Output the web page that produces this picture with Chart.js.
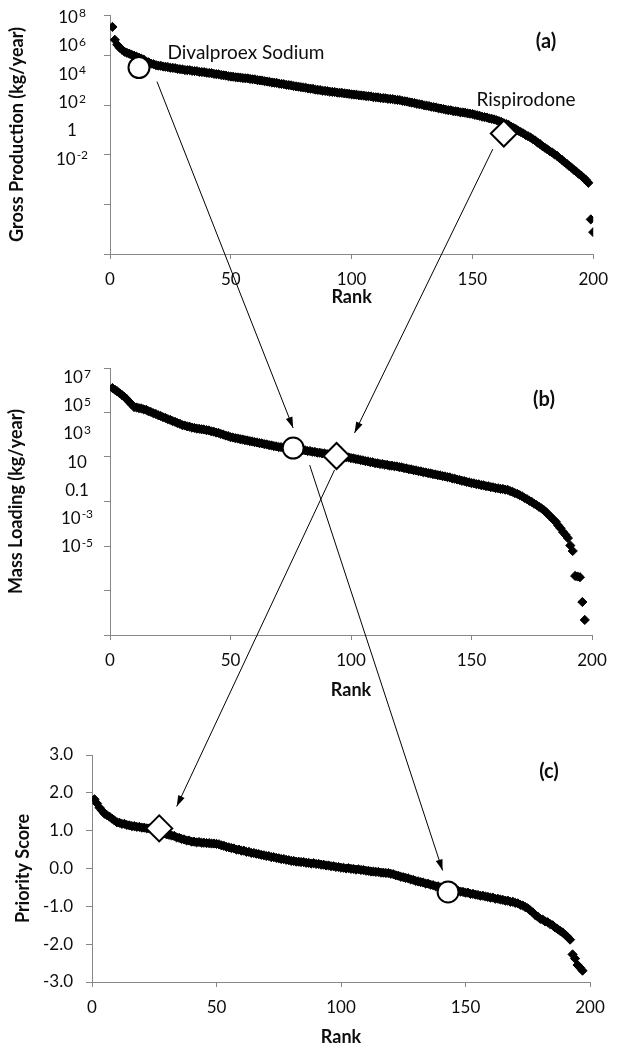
<!DOCTYPE html>
<html>
<head>
<meta charset="utf-8">
<script src="https://cdn.jsdelivr.net/npm/chart.js@4.4.1/dist/chart.umd.min.js"></script>
<style>
  body { margin: 0; background: #fff; }
  #wrap { position: relative; width: 618px; height: 1050px; }
  #wrap canvas { position: absolute; left: 0; }
</style>
</head>
<body>
<div id="wrap">
  <canvas id="chartA" width="618" height="310" style="top:0px"></canvas>
  <canvas id="chartB" width="618" height="373" style="top:330px"></canvas>
  <canvas id="chartC" width="618" height="330" style="top:720px"></canvas>
  <canvas id="overlay" width="618" height="1050" style="top:0px"></canvas>
</div>
<script>
// log10 of gross production (kg/year), rank 1..200
const grossLog10 = [
  7.30, 6.39, 6.04, 5.83, 5.69, 5.55, 5.47, 5.41, 5.33, 5.27,
  5.20, 5.13, 5.06, 4.99, 4.86, 4.80, 4.71, 4.67, 4.60, 4.57,
  4.56, 4.51, 4.49, 4.47, 4.42, 4.41, 4.39, 4.34, 4.32, 4.30,
  4.26, 4.25, 4.25, 4.20, 4.19, 4.18, 4.13, 4.12, 4.11, 4.07,
  4.05, 4.04, 3.99, 3.97, 3.96, 3.91, 3.89, 3.87, 3.82, 3.80,
  3.79, 3.75, 3.74, 3.73, 3.69, 3.68, 3.67, 3.63, 3.61, 3.60,
  3.55, 3.53, 3.52, 3.47, 3.45, 3.43, 3.38, 3.37, 3.35, 3.30,
  3.28, 3.26, 3.22, 3.20, 3.18, 3.13, 3.11, 3.09, 3.05, 3.03,
  3.01, 2.96, 2.95, 2.93, 2.88, 2.86, 2.85, 2.80, 2.79, 2.77,
  2.73, 2.72, 2.71, 2.67, 2.66, 2.65, 2.61, 2.60, 2.58, 2.54,
  2.53, 2.52, 2.48, 2.47, 2.46, 2.42, 2.41, 2.40, 2.35, 2.34,
  2.33, 2.29, 2.28, 2.27, 2.23, 2.22, 2.21, 2.17, 2.15, 2.14,
  2.09, 2.06, 2.04, 1.98, 1.96, 1.93, 1.88, 1.85, 1.83, 1.77,
  1.75, 1.72, 1.67, 1.64, 1.62, 1.56, 1.54, 1.51, 1.46, 1.43,
  1.42, 1.37, 1.35, 1.33, 1.28, 1.27, 1.25, 1.20, 1.18, 1.16,
  1.10, 1.07, 1.03, 0.97, 0.94, 0.91, 0.85, 0.82, 0.78, 0.72,
  0.66, 0.60, 0.51, 0.45, 0.39, 0.27, 0.18, 0.10, -0.02, -0.11,
  -0.20, -0.32, -0.40, -0.49, -0.61, -0.71, -0.86, -0.96, -1.11, -1.22,
  -1.33, -1.46, -1.55, -1.69, -1.78, -1.94, -2.06, -2.22, -2.34, -2.50,
  -2.62, -2.78, -2.90, -3.06, -3.18, -3.34, -3.49, -3.69, -6.27, -7.17
];

// log10 of mass loading (kg/year), rank 1..197
const massLog10 = [
  6.22, 6.10, 5.98, 5.85, 5.72, 5.58, 5.42, 5.23, 5.05, 4.87,
  4.84, 4.79, 4.77, 4.70, 4.67, 4.57, 4.52, 4.43, 4.38, 4.29,
  4.24, 4.15, 4.10, 4.01, 3.96, 3.87, 3.82, 3.73, 3.68, 3.59,
  3.56, 3.50, 3.48, 3.41, 3.39, 3.34, 3.33, 3.29, 3.28, 3.23,
  3.21, 3.15, 3.13, 3.06, 3.04, 2.96, 2.92, 2.85, 2.81, 2.73,
  2.71, 2.66, 2.64, 2.59, 2.57, 2.52, 2.50, 2.45, 2.43, 2.38,
  2.36, 2.31, 2.29, 2.24, 2.22, 2.17, 2.15, 2.10, 2.08, 2.03,
  2.03, 1.99, 1.99, 1.94, 1.94, 1.90, 1.90, 1.85, 1.85, 1.81,
  1.80, 1.75, 1.75, 1.70, 1.69, 1.64, 1.63, 1.59, 1.58, 1.53,
  1.52, 1.47, 1.47, 1.42, 1.41, 1.36, 1.35, 1.31, 1.30, 1.25,
  1.23, 1.18, 1.16, 1.11, 1.09, 1.03, 1.02, 0.96, 0.95, 0.89,
  0.88, 0.83, 0.83, 0.78, 0.77, 0.72, 0.71, 0.67, 0.66, 0.61,
  0.59, 0.54, 0.52, 0.46, 0.45, 0.39, 0.38, 0.32, 0.31, 0.25,
  0.23, 0.18, 0.16, 0.11, 0.09, 0.04, 0.02, -0.03, -0.05, -0.10,
  -0.12, -0.19, -0.21, -0.27, -0.30, -0.36, -0.38, -0.44, -0.47, -0.53,
  -0.54, -0.60, -0.61, -0.67, -0.68, -0.74, -0.75, -0.81, -0.82, -0.88,
  -0.89, -0.93, -0.94, -0.99, -1.00, -1.09, -1.14, -1.23, -1.29, -1.38,
  -1.46, -1.58, -1.66, -1.78, -1.86, -1.99, -2.08, -2.21, -2.31, -2.44,
  -2.59, -2.78, -2.93, -3.12, -3.27, -3.53, -3.74, -4.00, -4.19, -4.42,
  -4.95, -5.34, -7.11, -7.15, -7.20, -8.96, -10.23
];

// priority score, rank 1..197
const priorityScore = [
  1.83, 1.72, 1.61, 1.53, 1.45, 1.41, 1.37, 1.32, 1.27, 1.22,
  1.21, 1.18, 1.18, 1.15, 1.14, 1.12, 1.12, 1.10, 1.10, 1.08,
  1.08, 1.06, 1.06, 1.04, 1.04, 1.01, 0.99, 0.95, 0.93, 0.90,
  0.89, 0.87, 0.86, 0.82, 0.81, 0.78, 0.77, 0.74, 0.74, 0.71,
  0.71, 0.69, 0.70, 0.68, 0.68, 0.67, 0.67, 0.66, 0.66, 0.65,
  0.64, 0.61, 0.60, 0.57, 0.56, 0.54, 0.53, 0.50, 0.50, 0.47,
  0.47, 0.44, 0.44, 0.41, 0.41, 0.39, 0.38, 0.36, 0.35, 0.33,
  0.33, 0.30, 0.30, 0.28, 0.27, 0.25, 0.25, 0.23, 0.22, 0.20,
  0.20, 0.18, 0.18, 0.17, 0.17, 0.15, 0.15, 0.13, 0.14, 0.12,
  0.12, 0.10, 0.10, 0.08, 0.08, 0.06, 0.06, 0.04, 0.04, 0.02,
  0.02, 0.00, 0.01, -0.01, -0.01, -0.03, -0.02, -0.04, -0.04, -0.06,
  -0.06, -0.08, -0.08, -0.09, -0.09, -0.11, -0.11, -0.12, -0.12, -0.14,
  -0.15, -0.18, -0.19, -0.22, -0.23, -0.25, -0.26, -0.29, -0.30, -0.33,
  -0.34, -0.36, -0.37, -0.40, -0.40, -0.43, -0.44, -0.47, -0.47, -0.50,
  -0.50, -0.53, -0.53, -0.56, -0.56, -0.58, -0.59, -0.61, -0.62, -0.64,
  -0.64, -0.67, -0.67, -0.69, -0.70, -0.72, -0.72, -0.74, -0.75, -0.77,
  -0.77, -0.80, -0.80, -0.82, -0.83, -0.85, -0.85, -0.88, -0.88, -0.91,
  -0.92, -0.96, -0.98, -1.02, -1.05, -1.11, -1.16, -1.23, -1.27, -1.33,
  -1.35, -1.40, -1.42, -1.47, -1.50, -1.56, -1.60, -1.65, -1.69, -1.75,
  -1.81, -1.88, -2.27, -2.38, -2.55, -2.62, -2.70
];

// highlighted drugs in panels a, b, c
const divalproexRank = [12, 76, 143];
const divalproexValue = [4.43, 1.96, -0.62];
const rispirodoneRank = [163, 94, 27];
const rispirodoneValue = [-0.22, 1.40, 1.06];

// hand-placed power-of-ten labels on the log axes
const grossLabelExp = [8, 6, 4, 2, 0, -2];
const massLabelExp = [7, 5, 3, 1, -1, -3, -5];

const AXIS = '#878787';
const INK = '#0d0d0d';
Chart.defaults.font.family = 'Lato, "Open Sans", sans-serif';
Chart.defaults.color = INK;

const toPoints = vals => vals.map((v, i) => ({ x: i + 1, y: v }));

const powerLabels = {
  id: 'powerLabels',
  afterDraw(chart, args, opts) {
    if (!opts.exps) return;
    const ctx = chart.ctx;
    const scale = chart.scales.y;
    ctx.save();
    ctx.fillStyle = INK;
    ctx.textBaseline = 'alphabetic';
    ctx.textAlign = 'left';
    opts.exps.forEach(e => {
      const py = scale.getPixelForValue(e);
      let base = '10', sup = '';
      if (e === 0) base = '1';
      else if (e === -1) base = '0.1';
      else if (e !== 1) sup = String(e);
      ctx.font = '17px Lato';
      const bw = ctx.measureText(base).width;
      ctx.font = '12px Lato';
      const sw = sup ? ctx.measureText(sup).width + 1 : 0;
      const x0 = opts.cx - (bw + sw) / 2;
      ctx.font = '17px Lato';
      ctx.fillText(base, x0, py + 6);
      if (sup) {
        ctx.font = '12px Lato';
        ctx.fillText(sup, x0 + bw + 1, py + 0.5);
      }
    });
    ctx.restore();
  }
};

function makeChart(id, cfg) {
  return new Chart(document.getElementById(id), {
    type: 'scatter',
    data: {
      datasets: [
        {
          data: [{ x: cfg.circle[0], y: cfg.circle[1] }],
          pointStyle: 'circle', pointRadius: 10.5,
          backgroundColor: '#fff', borderColor: '#000', borderWidth: 2
        },
        {
          data: [{ x: cfg.diamond[0], y: cfg.diamond[1] }],
          pointStyle: 'rectRot', pointRadius: 13,
          backgroundColor: '#fff', borderColor: '#000', borderWidth: 2
        },
        {
          data: toPoints(cfg.values),
          pointStyle: 'rectRot', pointRadius: 4.6,
          backgroundColor: '#000', borderColor: '#000', borderWidth: 1
        }
      ]
    },
    options: {
      responsive: false,
      animation: false,
      layout: { padding: { top: cfg.padTop, right: cfg.padRight, left: 0, bottom: 0 } },
      plugins: {
        legend: { display: false },
        tooltip: { enabled: false },
        powerLabels: { exps: cfg.labelExps, cx: cfg.labelCx }
      },
      scales: {
        x: {
          type: 'linear', min: 0, max: 200,
          ticks: { stepSize: 50, padding: 10, font: { size: 17 }, color: INK },
          grid: { drawOnChartArea: false, tickLength: 5, color: AXIS },
          border: { color: AXIS },
          title: { display: true, text: 'Rank', color: INK,
                   font: { size: 18, weight: 'bold' }, padding: { top: 0, bottom: 2 } },
          afterFit: s => { s.height = cfg.xHeight; }
        },
        y: {
          type: 'linear', min: cfg.yMin, max: cfg.yMax,
          afterBuildTicks: cfg.yTicks ? s => { s.ticks = cfg.yTicks.map(v => ({ value: v })); } : undefined,
          ticks: cfg.yTicks ? { display: false } : {
            stepSize: 1, padding: 13, font: { size: 17 }, color: INK,
            callback: v => v.toFixed(1)
          },
          grid: { drawOnChartArea: false, tickLength: 6, color: AXIS },
          border: { color: AXIS },
          title: { display: true, text: cfg.yTitle, color: INK,
                   font: { size: 18, weight: 'bold' }, padding: { top: cfg.titlePad, bottom: 0 } },
          afterFit: s => { s.width = cfg.yWidth; }
        }
      }
    },
    plugins: [powerLabels]
  });
}

const chartA = makeChart('chartA', {
  values: grossLog10,
  circle: [divalproexRank[0], divalproexValue[0]],
  diamond: [rispirodoneRank[0], rispirodoneValue[0]],
  yMin: -8.71, yMax: 8.14,
  yTicks: [-8.71, -5.21, -1.72, 1.78, 5.27, 8.14],
  labelExps: grossLabelExp, labelCx: 72,
  yTitle: 'Gross Production (kg/year)', titlePad: 6,
  padTop: 13, padRight: 24, xHeight: 56, yWidth: 110
});

const chartB = makeChart('chartB', {
  values: massLog10,
  circle: [divalproexRank[1], divalproexValue[1]],
  diamond: [rispirodoneRank[1], rispirodoneValue[1]],
  yMin: -11.30, yMax: 7.64,
  yTicks: [-11.30, -8.14, -4.99, -1.83, 1.33, 4.48, 7.64],
  labelExps: massLabelExp, labelCx: 77,
  yTitle: 'Mass Loading (kg/year)', titlePad: 5,
  padTop: 38, padRight: 26, xHeight: 68, yWidth: 110
});

const chartC = makeChart('chartC', {
  values: priorityScore,
  circle: [divalproexRank[2], divalproexValue[2]],
  diamond: [rispirodoneRank[2], rispirodoneValue[2]],
  yMin: -3, yMax: 3,
  yTitle: 'Priority Score', titlePad: 12,
  padTop: 35, padRight: 28, xHeight: 68, yWidth: 92
});

// arrows and annotation text on a page-wide overlay
function pagePx(chart, top, x, y) {
  return [chart.scales.x.getPixelForValue(x), top + chart.scales.y.getPixelForValue(y)];
}

function arrow(ctx, a, b) {
  ctx.beginPath();
  ctx.moveTo(a[0], a[1]);
  ctx.lineTo(b[0], b[1]);
  ctx.stroke();
  const ang = Math.atan2(b[1] - a[1], b[0] - a[0]);
  const L = 11, W = 3.5;
  ctx.beginPath();
  ctx.moveTo(b[0], b[1]);
  ctx.lineTo(b[0] - L * Math.cos(ang) + W * Math.sin(ang), b[1] - L * Math.sin(ang) - W * Math.cos(ang));
  ctx.lineTo(b[0] - L * Math.cos(ang) - W * Math.sin(ang), b[1] - L * Math.sin(ang) + W * Math.cos(ang));
  ctx.closePath();
  ctx.fill();
}

const ov = document.getElementById('overlay').getContext('2d');
ov.strokeStyle = '#000';
ov.fillStyle = '#000';
ov.lineWidth = 1;

const circA = pagePx(chartA, 0, divalproexRank[0], divalproexValue[0]);
const diaA = pagePx(chartA, 0, rispirodoneRank[0], rispirodoneValue[0]);
const circB = pagePx(chartB, 330, divalproexRank[1], divalproexValue[1]);
const diaB = pagePx(chartB, 330, rispirodoneRank[1], rispirodoneValue[1]);
const circC = pagePx(chartC, 720, divalproexRank[2], divalproexValue[2]);
const diaC = pagePx(chartC, 720, rispirodoneRank[2], rispirodoneValue[2]);

arrow(ov, [circA[0] + 18, circA[1] + 14], [circB[0], circB[1] - 20]);
arrow(ov, [diaA[0] - 11, diaA[1] + 15.5], [diaB[0] + 18, diaB[1] - 23]);
arrow(ov, [diaB[0] - 2, diaB[1] + 14], [diaC[0] + 17.5, diaC[1] - 22]);
arrow(ov, [circB[0] + 16.5, circB[1] + 17], [circC[0] - 5.5, circC[1] - 21.5]);

ov.textAlign = 'center';
ov.textBaseline = 'middle';
ov.fillStyle = INK;
ov.font = '19px Lato';
ov.fillText('Divalproex Sodium', 246, 53);
ov.fillText('Rispirodone', 526, 100);
ov.font = 'bold 20px Lato';
ov.fillText('(a)', 546, 42);
ov.fillText('(b)', 544, 400);
ov.fillText('(c)', 549, 772);
</script>
</body>
</html>
